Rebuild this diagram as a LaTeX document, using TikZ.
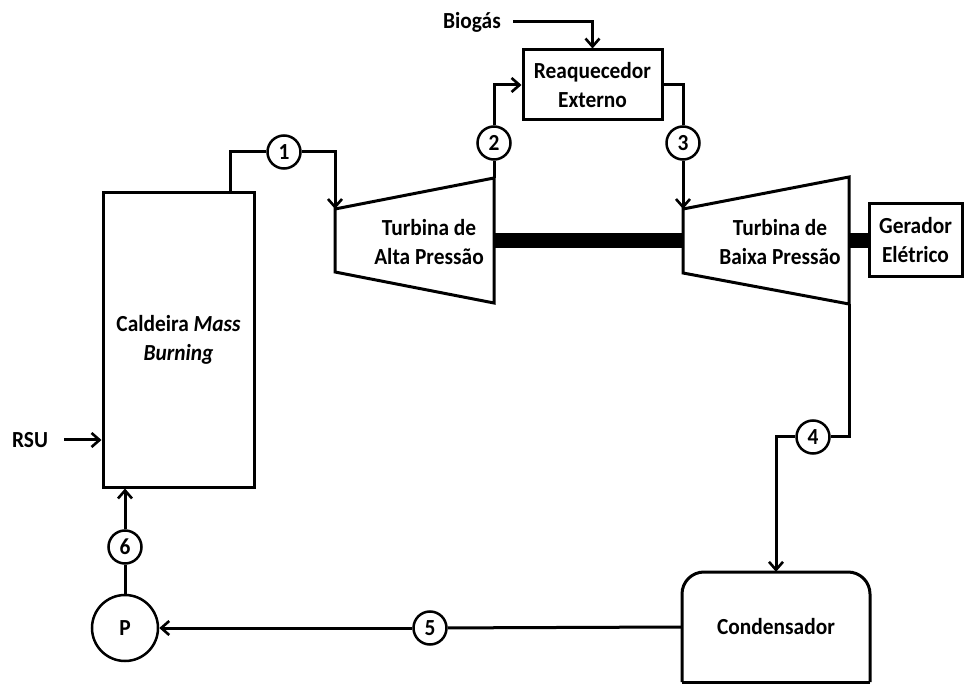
\documentclass[tikz,border=0pt]{standalone}
\usepackage{fontspec}
\setmainfont{Carlito}[FakeStretch=0.93]
\usetikzlibrary{arrows.meta,calc}
\begin{document}
\begin{tikzpicture}[x=1pt,y=-1pt,
  every node/.style={font=\bfseries\fontsize{23}{29}\selectfont},
  line/.style={line width=3pt,line join=miter},
  flow/.style={line,-{Straight Barb[length=8pt,width=14pt,line width=2.6pt]}},
  box/.style={draw,line width=3pt,inner sep=2pt,align=center},
  state/.style={circle,draw,line width=2.5pt,minimum size=33pt,inner sep=0pt},
  shaft/.style={line width=15pt},
  label/.style={align=center,inner sep=0pt}
]
\useasboundingbox (0,0) rectangle (964,684);

% equipment
\node[box,minimum width=151pt,minimum height=294pt] (boiler) at (178.5,340)
  {Caldeira \textit{Mass}\\\textit{Burning}};
\node[box,minimum width=139pt,minimum height=70pt] (reheat) at (592.5,85)
  {Reaquecedor\\Externo};
\node[box,minimum width=93pt,minimum height=73pt] (gen) at (915.5,240.5)
  {Gerador\\Elétrico};
\node[state,minimum size=66pt] (pump) at (125,628) {P};

% turbines
\coordinate (hpin)  at (335,209);
\coordinate (hpout) at (494,178);
\coordinate (hpbr)  at (494,303);
\coordinate (hpbl)  at (335,272);
\coordinate (lpin)  at (683,209);
\coordinate (lpout) at (849,177);
\coordinate (lpbr)  at (849,304);
\coordinate (lpbl)  at (683,273);
\draw[line] (hpin) -- (hpout) -- (hpbr) -- (hpbl) -- cycle;
\draw[line] (lpin) -- (lpout) -- (lpbr) -- (lpbl) -- cycle;
\node[label] (hpt) at (429,242) {Turbina de\\Alta Pressão};
\node[label] (lpt) at (780,242) {Turbina de\\Baixa Pressão};

% shafts
\draw[shaft] (494,241) -- (683,241);
\draw[shaft] (lpbr |- gen.west) -- (gen.west);

% condenser (rounded top corners only)
\draw[line,rounded corners=22pt] (682,682) -- (682,572) -- (870,572) -- (870,682);
\draw[line] (870,682) -- (682,682);
\node[minimum width=188pt,minimum height=110pt,inner sep=0pt] (cond) at (776,627) {Condensador};

% state points
\node[state] (s1) at (284,152) {1};
\node[state] (s2) at (494,143) {2};
\node[state] (s3) at (683,143) {3};
\node[state] (s4) at (813,437) {4};
\node[state] (s5) at (430,628) {5};
\node[state] (s6) at (125,547) {6};

% external inputs
\node[label] (bio) at (472,22) {Biogás};
\node[label] (rsu) at (30,440) {RSU};

% connectors
\draw[line] ($(boiler.north)+(51.5,0)$) |- (s1);
\draw[flow] (s1) -| (hpin);
\draw[line] (hpout) -- (s2);
\draw[flow] (s2) |- (reheat.west);
\draw[line] (reheat.east) -| (s3);
\draw[flow] (s3) -- (lpin);
\draw[flow] ([xshift=12pt]bio.east) -| (reheat.north);
\draw[line] (lpbr) |- (s4);
\draw[flow] (s4) -| (cond.north);
\draw[line] (cond.west) -- (s5);
\draw[flow] (s5) -- (pump);
\draw[line] (pump) -- (s6);
\draw[flow] (s6) -- (s6 |- boiler.south);
\draw[flow] ([xshift=16pt]rsu.east) -- (rsu -| boiler.west);
\end{tikzpicture}
\end{document}
